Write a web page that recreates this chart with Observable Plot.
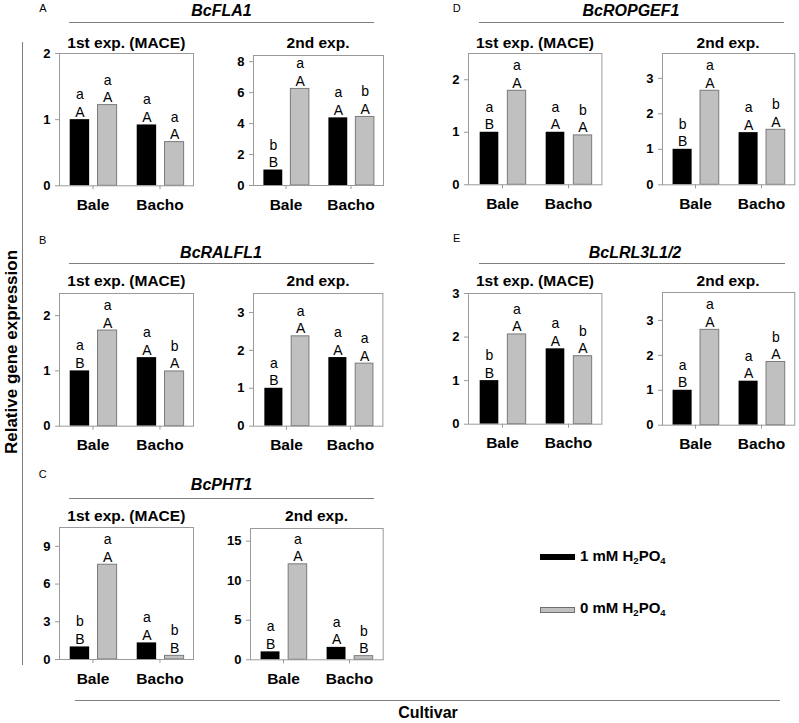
<!DOCTYPE html>
<html><head><meta charset="utf-8">
<script src="https://cdn.jsdelivr.net/npm/d3@7"></script>
<script src="https://cdn.jsdelivr.net/npm/@observablehq/plot@0.6"></script>
<style>
body{margin:0;background:#fff;}
#fig{position:relative;width:799px;height:723px;overflow:hidden;font-family:"Liberation Sans",Arial,sans-serif;color:#000;background:#fff;}
.t{position:absolute;white-space:nowrap;transform:translate(-50%,-50%);line-height:1;}
.letter{font-size:11px;}
.gene{font-size:16px;font-weight:bold;font-style:italic;}
.sub{font-size:15.5px;font-weight:bold;}
.hl{position:absolute;height:0;border-top:1.5px solid #7f7f7f;}
.vl{position:absolute;width:0;border-left:1.5px solid #7f7f7f;}
.leg{position:absolute;font-size:15px;font-weight:bold;white-space:nowrap;transform:translateY(-50%);line-height:1;}
.leg sub{font-size:9.5px;vertical-align:-3px;}
</style></head><body><div id="fig"></div>
<script>
// ---------- data ----------
const cultivars = ["Bale", "Bacho"];
const treatments = ["1 mM H2PO4", "0 mM H2PO4"];
// values ordered: Bale 1mM, Bale 0mM, Bacho 1mM, Bacho 0mM
const fla1_1st = [1.0, 1.22, 0.92, 0.66];
const fla1_1st_lower = ["a", "a", "a", "a"];
const fla1_1st_upper = ["A", "A", "A", "A"];
const fla1_2nd = [1.0, 6.24, 4.37, 4.43];
const fla1_2nd_lower = ["b", "a", "a", "b"];
const fla1_2nd_upper = ["B", "A", "A", "A"];
const ralfl1_1st = [1.0, 1.73, 1.24, 0.99];
const ralfl1_1st_lower = ["a", "a", "a", "b"];
const ralfl1_1st_upper = ["B", "A", "A", "A"];
const ralfl1_2nd = [1.0, 2.37, 1.81, 1.65];
const ralfl1_2nd_lower = ["a", "a", "a", "a"];
const ralfl1_2nd_upper = ["B", "A", "A", "A"];
const pht1_1st = [1.0, 7.54, 1.32, 0.29];
const pht1_1st_lower = ["b", "a", "a", "b"];
const pht1_1st_upper = ["B", "A", "A", "B"];
const pht1_2nd = [1.0, 12.07, 1.57, 0.46];
const pht1_2nd_lower = ["a", "a", "a", "b"];
const pht1_2nd_upper = ["B", "A", "A", "B"];
const ropgef1_1st = [1.0, 1.79, 1.0, 0.94];
const ropgef1_1st_lower = ["a", "a", "a", "b"];
const ropgef1_1st_upper = ["B", "A", "A", "A"];
const ropgef1_2nd = [1.0, 2.65, 1.47, 1.55];
const ropgef1_2nd_lower = ["b", "a", "a", "b"];
const ropgef1_2nd_upper = ["B", "A", "A", "A"];
const lrl3_1st = [1.0, 2.06, 1.73, 1.56];
const lrl3_1st_lower = ["b", "a", "a", "b"];
const lrl3_1st_upper = ["B", "A", "A", "A"];
const lrl3_2nd = [1.0, 2.73, 1.26, 1.81];
const lrl3_2nd_lower = ["a", "a", "a", "b"];
const lrl3_2nd_upper = ["B", "A", "A", "A"];

const ticks_2 = [0, 1, 2];
const ticks_8 = [0, 2, 4, 6, 8];
const ticks_3 = [0, 1, 2, 3];
const ticks_9 = [0, 3, 6, 9];
const ticks_15 = [0, 5, 10, 15];

const genes = ["BcFLA1", "BcRALFL1", "BcPHT1", "BcROPGEF1", "BcLRL3L1/2"];
const panelLetters = ["A", "B", "C", "D", "E"];
const expLabels = ["1st exp. (MACE)", "2nd exp."];
const yLabel = "Relative gene expression";
const xLabel = "Cultivar";

// ---------- drawing ----------
const fig = document.getElementById("fig");
const FONT = "'Liberation Sans', Arial, sans-serif";

function addText(txt, x, y, cls, extra) {
  const d = document.createElement("div");
  d.className = "t " + cls;
  d.textContent = txt;
  d.style.left = x + "px";
  d.style.top = y + "px";
  if (extra) Object.assign(d.style, extra);
  fig.appendChild(d);
  return d;
}
function hline(x1, x2, y) {
  const d = document.createElement("div");
  d.className = "hl";
  d.style.left = x1 + "px"; d.style.width = (x2 - x1) + "px"; d.style.top = (y - 0.75) + "px";
  fig.appendChild(d);
}
function vline(x, y1, y2) {
  const d = document.createElement("div");
  d.className = "vl";
  d.style.left = (x - 0.75) + "px"; d.style.top = y1 + "px"; d.style.height = (y2 - y1) + "px";
  fig.appendChild(d);
}

function drawPanel(values, lower, upper, ticks, ymax, box) {
  const rows = [];
  cultivars.forEach((c, i) => treatments.forEach((t, j) => {
    const k = i * 2 + j;
    rows.push({cultivar: c, treatment: t, value: values[k], label: lower[k] + "\n" + upper[k]});
  }));
  const w = box.R - box.L, h = box.B - box.T;
  const ml = 45, mr = 10, mt = 16, mb = 34;
  const bw = w / 2;
  const bl = [0.16, 0.45], gr = [0.575, 0.86];
  const black = rows.filter(d => d.treatment === treatments[0]);
  const gray = rows.filter(d => d.treatment === treatments[1]);
  const svg = Plot.plot({
    width: w + ml + mr, height: h + mt + mb,
    marginLeft: ml, marginRight: mr, marginTop: mt, marginBottom: mb,
    x: {domain: cultivars, padding: 0},
    y: {domain: [0, ymax]},
    style: {fontFamily: FONT, color: "#000", background: "transparent", overflow: "visible"},
    marks: [
      Plot.barY(black, {x: "cultivar", y: "value", fill: "#000",
        insetLeft: bl[0] * bw, insetRight: (1 - bl[1]) * bw}),
      Plot.barY(gray, {x: "cultivar", y: "value", fill: "#c0c0c0", stroke: "#7a7a7a", strokeWidth: 1,
        insetLeft: gr[0] * bw, insetRight: (1 - gr[1]) * bw}),
      Plot.text(black, {x: "cultivar", y: "value", text: "label", lineAnchor: "bottom", lineHeight: 1.25,
        dx: ((bl[0] + bl[1]) / 2 - 0.5) * bw, dy: -3, fontSize: 14, fill: "#000"}),
      Plot.text(gray, {x: "cultivar", y: "value", text: "label", lineAnchor: "bottom", lineHeight: 1.25,
        dx: ((gr[0] + gr[1]) / 2 - 0.5) * bw, dy: -3, fontSize: 14, fill: "#000"}),
      Plot.frame({stroke: "#9a9a9a"}),
      Plot.axisY({ticks: ticks, tickFormat: d => String(d), tickSize: 4, tickPadding: 5, fontSize: 13, fontWeight: "bold",
        stroke: "#9a9a9a", fill: "#000", label: null}),
      Plot.axisX({tickSize: 4, tickPadding: 9, fontSize: 15.5, fontWeight: "bold",
        stroke: "#9a9a9a", fill: "#000", label: null})
    ]
  });
  svg.style.position = "absolute";
  svg.style.left = (box.L - ml) + "px";
  svg.style.top = (box.T - mt) + "px";
  fig.appendChild(svg);
}

// panels
drawPanel(fla1_1st, fla1_1st_lower, fla1_1st_upper, ticks_2, 2, {L: 59.3, R: 193.3, T: 52.7, B: 185});
drawPanel(fla1_2nd, fla1_2nd_lower, fla1_2nd_upper, ticks_8, 8.4, {L: 253, R: 383, T: 55, B: 185});
drawPanel(ralfl1_1st, ralfl1_1st_lower, ralfl1_1st_upper, ticks_2, 2.4, {L: 59.3, R: 193.3, T: 293.3, B: 426});
drawPanel(ralfl1_2nd, ralfl1_2nd_lower, ralfl1_2nd_upper, ticks_3, 3.5, {L: 253.3, R: 382.7, T: 293.3, B: 426});
drawPanel(pht1_1st, pht1_1st_lower, pht1_1st_upper, ticks_9, 10.5, {L: 59.3, R: 193.3, T: 527.3, B: 659.3});
drawPanel(pht1_2nd, pht1_2nd_lower, pht1_2nd_upper, ticks_15, 16.6, {L: 250, R: 382.7, T: 527.7, B: 659});
drawPanel(ropgef1_1st, ropgef1_1st_lower, ropgef1_1st_upper, ticks_2, 2.5, {L: 468.3, R: 601.7, T: 52.7, B: 184});
drawPanel(ropgef1_2nd, ropgef1_2nd_lower, ropgef1_2nd_upper, ticks_3, 3.7, {L: 661.7, R: 794, T: 52.7, B: 184});
drawPanel(lrl3_1st, lrl3_1st_lower, lrl3_1st_upper, ticks_3, 3, {L: 468.3, R: 601.7, T: 293.3, B: 424});
drawPanel(lrl3_2nd, lrl3_2nd_lower, lrl3_2nd_upper, ticks_3, 3.8, {L: 661.7, R: 794, T: 292.3, B: 425});

// panel letters
addText(panelLetters[0], 43, 8, "letter");
addText(panelLetters[1], 42.7, 240, "letter");
addText(panelLetters[2], 42.7, 474.3, "letter");
addText(panelLetters[3], 456.7, 8, "letter");
addText(panelLetters[4], 456.7, 238.3, "letter");

// gene titles and rules
addText(genes[0], 221.5, 11, "gene");
addText(genes[1], 221, 252.7, "gene");
addText(genes[2], 221.5, 485, "gene");
addText(genes[3], 631, 11, "gene");
addText(genes[4], 635, 252.7, "gene");
hline(69, 374, 22.7);
hline(69, 374, 263.3);
hline(69, 374, 498.3);
hline(479, 784, 22.7);
hline(479, 785, 263.3);

// experiment subtitles
addText(expLabels[0], 126.3, 43, "sub");
addText(expLabels[1], 318, 43, "sub");
addText(expLabels[0], 126.3, 281, "sub");
addText(expLabels[1], 318, 281, "sub");
addText(expLabels[0], 126.3, 516, "sub");
addText(expLabels[1], 316.5, 516, "sub");
addText(expLabels[0], 535, 43, "sub");
addText(expLabels[1], 728, 43, "sub");
addText(expLabels[0], 535, 281, "sub");
addText(expLabels[1], 728, 281, "sub");

// y label + bracket line
addText(yLabel, 10.5, 352, "", {fontSize: "17px", fontWeight: "bold", transform: "translate(-50%,-50%) rotate(-90deg)"});
vline(22.7, 42, 665);

// x label + line
hline(75, 780, 701);
addText(xLabel, 428, 713, "", {fontSize: "16px", fontWeight: "bold"});

// legend
function legendItem(y, fill, stroke, txtParts) {
  const r = document.createElement("div");
  Object.assign(r.style, {position: "absolute", left: "539.5px", top: (y - 2.5) + "px", width: "33px", height: "4px",
    background: fill, border: "1px solid " + stroke});
  fig.appendChild(r);
  const t = document.createElement("div");
  t.className = "leg";
  t.style.left = "580px"; t.style.top = y + "px";
  t.innerHTML = txtParts;
  fig.appendChild(t);
}
legendItem(556.7, "#000", "#000", "1 mM H<sub>2</sub>PO<sub>4</sub>");
legendItem(609, "#c0c0c0", "#6f6f6f", "0 mM H<sub>2</sub>PO<sub>4</sub>");
</script></body></html>
